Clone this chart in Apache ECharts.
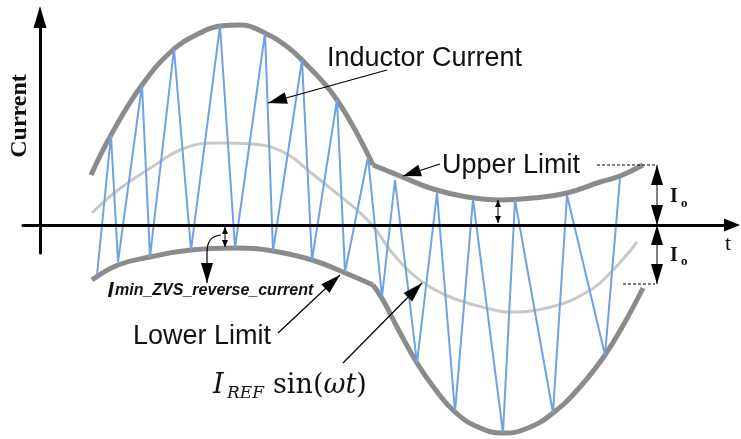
<!DOCTYPE html>
<html>
<head>
<meta charset="utf-8">
<script src="https://cdn.jsdelivr.net/npm/echarts@6/dist/echarts.min.js"></script>
<style>
  html, body { margin: 0; padding: 0; background: #fff; }
  #chart { width: 741px; height: 439px; }
</style>
</head>
<body>
<div id="chart"></div>
<script>
// Hysteresis current control: [t, current] pairs
const upperLimitPos = [[51,50],[71,90],[102,140],[134,176],[160,192],[180,199],[200,200],[225,192],[245,180],[262,165],[297,125],[333,60]];
const upperLimitNeg = [[333,60],[360,49],[393,36],[427,28],[460,25],[493,27],[527,32],[560,43],[580,49],[603,60]];
const lowerLimitPos = [[52,-55],[78,-40],[110,-32],[151,-25],[195,-23],[233,-26],[272,-35],[303,-47],[333,-60]];
const lowerLimitNeg = [[333,-60],[343,-75],[357,-102],[377,-138],[395,-164],[415,-187],[438,-202],[463,-208],[488,-203],[513,-188],[540,-162],[565,-130],[585,-97],[603,-63]];
const referenceCurrent = [[52,12],[78,35],[112,58],[145,77],[178,82],[212,81],[245,72],[270,53],[295,33],[317,15],[333,-1],[350,-25],[370,-47],[390,-62],[415,-74],[450,-84],[467,-87],[507,-83],[547,-67],[573,-45],[597,-17]];
const inductorCurrent = [[57,-50],[71,90],[78,-37],[102,140],[110,-32],[134,176],[151,-25],[180,199],[195,-23],[225,192],[233,-26],[262,165],[272,-35],[297,125],[305,-47],[328,68],[342,-72],[355,45],[377,-138],[397,32],[415,-187],[433,26],[463,-208],[475,25],[513,-188],[527,30],[565,-130],[580,47]];
const outputCurrent = 60;   // Io band half-width
const zvsMargin = [[185, -22], [458, 25]]; // minimum ZVS reverse current markers

const chart = echarts.init(document.getElementById('chart'), null, { renderer: 'canvas' });

const limitStyle = { color: '#8b8b8b', width: 5 };
const lineBase = { type: 'line', symbol: 'none', clip: false, animation: false, silent: true };

chart.setOption({
  animation: false,
  backgroundColor: '#fff',
  grid: { left: 23, right: 9, top: 17, bottom: 186 },
  xAxis: {
    type: 'value', min: -17, max: 692, z: 10,
    axisLine: { onZero: true, symbol: ['none', 'triangle'], symbolSize: [13, 16], lineStyle: { color: '#000', width: 3 } },
    axisTick: { show: false }, axisLabel: { show: false }, splitLine: { show: false }
  },
  yAxis: {
    type: 'value', min: -28, max: 208, z: 10,
    axisLine: { onZero: true, symbol: ['none', 'triangle'], symbolSize: [13, 22], lineStyle: { color: '#000', width: 3 } },
    axisTick: { show: false }, axisLabel: { show: false }, splitLine: { show: false }
  },
  series: [
    Object.assign({}, lineBase, { name: 'reference', data: referenceCurrent, smooth: 0.45, z: 2, lineStyle: { color: '#c8c8c8', width: 3 } }),
    Object.assign({}, lineBase, { name: 'upperA', data: upperLimitPos, smooth: 0.45, z: 3, lineStyle: limitStyle }),
    Object.assign({}, lineBase, { name: 'upperB', data: upperLimitNeg, smooth: 0.45, z: 3, lineStyle: limitStyle }),
    Object.assign({}, lineBase, { name: 'lowerA', data: lowerLimitPos, smooth: 0.45, z: 3, lineStyle: limitStyle }),
    Object.assign({}, lineBase, { name: 'lowerB', data: lowerLimitNeg, smooth: 0.45, z: 3, lineStyle: limitStyle }),
    Object.assign({}, lineBase, { name: 'inductor', data: inductorCurrent, z: 4, lineStyle: { color: '#6ea2e4', width: 2 } })
  ]
});

// ---- annotations, placed in (t, current) coordinates ----
const px = p => chart.convertToPixel({ gridIndex: 0 }, p);

function head(tip, from, len, wid) {
  const dx = tip[0] - from[0], dy = tip[1] - from[1];
  const d = Math.hypot(dx, dy), ux = dx / d, uy = dy / d;
  const bx = tip[0] - ux * len, by = tip[1] - uy * len;
  return { type: 'polygon', silent: true, z: 30,
    shape: { points: [tip, [bx - uy * wid / 2, by + ux * wid / 2], [bx + uy * wid / 2, by - ux * wid / 2]] },
    style: { fill: '#000' } };
}
function seg(a, b, w, dash) {
  return { type: 'line', silent: true, z: 30, shape: { x1: a[0], y1: a[1], x2: b[0], y2: b[1] },
    style: { stroke: '#000', lineWidth: w || 1, lineDash: dash || null } };
}
function arrow(fromD, tipD, len, wid) {
  const a = px(fromD), b = px(tipD);
  return [seg(a, b, 1.2), head(b, a, len, wid)];
}
function dblArrow(t, i1, i2, len, wid) {
  const a = px([t, i1]), b = px([t, i2]);
  return [seg(a, b, 1), head(a, b, len, wid), head(b, a, len, wid)];
}
function txt(p, text, font, opts) {
  const s = Object.assign({ text: text, x: p[0], y: p[1], font: font, fill: '#111',
    align: 'left', verticalAlign: 'middle', textAlign: 'left', textVerticalAlign: 'middle' }, opts || {});
  return { type: 'text', silent: true, z: 40, style: s };
}

const g = [];
// pointer arrows
g.push(...arrow([347, 155], [228, 122], 19, 12));   // Inductor Current
g.push(...arrow([400, 61], [363, 49], 18, 12));     // Upper Limit
g.push(...arrow([238, -108], [300, -50], 20, 12));  // Lower Limit
g.push(...arrow([303, -138], [382, -58], 20, 12));  // I_REF sin(wt)

// curved pointer for the minimum ZVS reverse current
{
  const s = px([181, -10]), c = px([167, -11]), e = px([167, -27]), tip = px([167, -58]);
  g.push({ type: 'bezierCurve', silent: true, z: 30,
    shape: { x1: s[0], y1: s[1], x2: e[0], y2: e[1], cpx1: c[0], cpy1: c[1] },
    style: { stroke: '#000', lineWidth: 1.2, fill: null } });
  g.push(seg(e, tip, 1.2), head(tip, e, 20, 12));
}

// Io bands and dashed limit markers
const ioT = 617;
g.push(...dblArrow(ioT, outputCurrent, 0, 20, 12));
g.push(...dblArrow(ioT, 0, -outputCurrent + 1, 20, 12));
g.push(seg(px([557, outputCurrent]), px([615, outputCurrent]), 1, [3, 2]));
g.push(seg(px([583, -outputCurrent + 1]), px([615, -outputCurrent + 1]), 1, [3, 2]));

// small ZVS margin arrows
g.push(...dblArrow(zvsMargin[0][0], -2, zvsMargin[0][1], 7, 6));
g.push(...dblArrow(zvsMargin[1][0], zvsMargin[1][1], 2, 7, 6));

// labels
const sans = '"Liberation Sans", Arial, sans-serif';
const serif = '"Liberation Serif", "Times New Roman", serif';
const math = '"DejaVu Serif", serif';
g.push(txt(px([287, 166]), 'Inductor Current', '27px ' + sans));
g.push(txt(px([402, 59.5]), 'Upper Limit', '27px ' + sans));
g.push(txt(px([93, -112]), 'Lower Limit', '27px ' + sans));
g.push(txt(px([67.5, -65.5]), 'I', 'italic bold 22px ' + sans));
g.push(txt(px([75, -66]), 'min_ZVS_reverse_current', 'italic bold 16px ' + sans));
g.push(txt(px([173, -161]), 'I', 'italic 27px ' + math));
g.push(txt(px([187, -169]), 'REF', 'italic 17px ' + math));
g.push({ type: 'text', silent: true, z: 40, style: {
  text: '{u|sin(}{i|ωt}{u|)}', x: px([233, -161])[0], y: px([233, -161])[1],
  align: 'left', verticalAlign: 'middle', textAlign: 'left', textVerticalAlign: 'middle', fill: '#111',
  rich: { u: { font: '27px ' + math, fill: '#111' }, i: { font: 'italic 27px ' + math, fill: '#111' } }
} });
g.push(txt(px([630, 28.5]), 'I', 'bold 20px ' + serif));
g.push(txt(px([641, 21.5]), 'o', 'bold 13px ' + serif));
g.push(txt(px([630, -30.5]), 'I', 'bold 20px ' + serif));
g.push(txt(px([641, -37]), 'o', 'bold 13px ' + serif));
g.push(txt(px([685, -19]), 't', '22px ' + serif));
{
  const p = px([-20, 109]);
  g.push({ type: 'text', silent: true, z: 40, x: p[0], y: p[1], rotation: Math.PI / 2,
    style: { text: 'Current', x: 0, y: 0, font: 'bold 24px ' + serif, fill: '#111',
      align: 'center', verticalAlign: 'middle', textAlign: 'center', textVerticalAlign: 'middle' } });
}

chart.setOption({ graphic: { elements: g } });
</script>
</body>
</html>
